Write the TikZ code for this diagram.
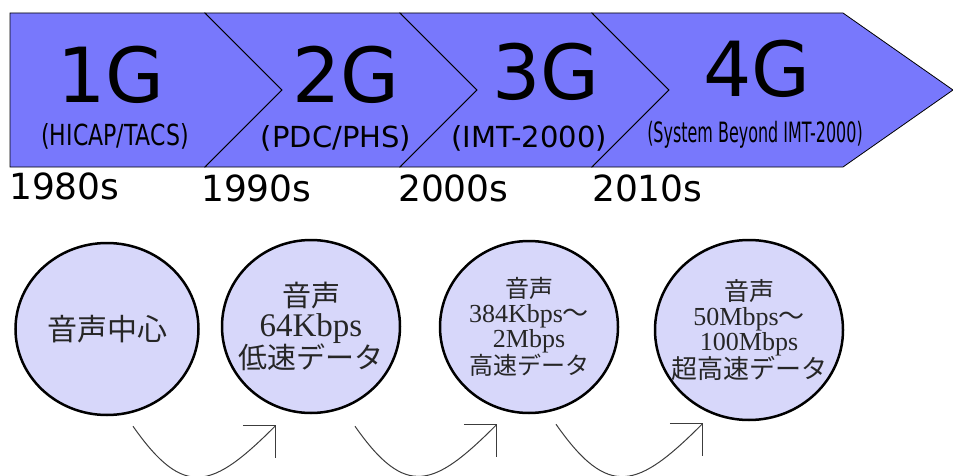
\documentclass[tikz,border=0pt]{standalone}
\usepackage{fontspec}
\usepackage{tikz}
\usetikzlibrary{arrows.meta,shapes.geometric}
\setmainfont{Liberation Serif}
\newfontfamily\dejavu{DejaVu Sans}
\newfontfamily\dejavunarrow[FakeStretch=0.76]{DejaVu Sans}
\newfontfamily\dejavuslim[FakeStretch=0.57]{DejaVu Sans}
\newfontfamily\jp{Noto Sans CJK JP}
\definecolor{banda}{RGB}{120,120,252}
\definecolor{circf}{RGB}{215,215,250}
\definecolor{flecha}{RGB}{60,60,60}
\tikzset{
  chev/.style={draw=black, line width=0.8pt, fill=banda, line join=miter},
  gen/.style={font=\dejavu\fontsize{76}{76}\selectfont, inner sep=0, anchor=base},
  sub/.style={font=\dejavu\fontsize{29}{29}\selectfont, inner sep=0, anchor=base},
  subn/.style={font=\dejavunarrow\fontsize{29}{29}\selectfont, inner sep=0, anchor=base},
  subs/.style={font=\dejavuslim\fontsize{28}{28}\selectfont, inner sep=0, anchor=base},
  yr/.style={font=\dejavu\fontsize{36}{36}\selectfont, inner sep=0, anchor=base west},
  circ/.style={draw=black, ellipse, line width=2.5pt, fill=circf, inner sep=0,
    minimum width=180pt, minimum height=172pt},
  lbl/.style={align=center, inner sep=0, text=black!85},
  fl/.style={-{Straight Barb[length=23pt,width=46pt]}, line width=1pt, flecha, looseness=1.6},
}
\begin{document}
\begin{tikzpicture}[x=1pt,y=1pt]
  \useasboundingbox (0,0) rectangle (953,475);
  % timeline band
  \draw[chev] (10,462) -- (205,462) -- (282,385) -- (205,308) -- (10,308) -- cycle;
  \draw[chev] (205,462) -- (400,462) -- (477,385) -- (400,308) -- (205,308) -- (282,385) -- cycle;
  \draw[chev] (400,462) -- (592,462) -- (669,385) -- (592,308) -- (400,308) -- (477,385) -- cycle;
  \draw[chev] (592,462) -- (843,462) -- (953,385) -- (843,308) -- (592,308) -- (669,385) -- cycle;
  \node[gen] (g1) at (111,372) {1G};
  \node[gen] (g2) at (346,373) {2G};
  \node[gen] (g3) at (546,375) {3G};
  \node[gen] (g4) at (757,378) {4G};
  \node[subn] (s1) at (115,330) {(HICAP/TACS)};
  \node[sub] (s2) at (336,327) {(PDC/PHS)};
  \node[sub] (s3) at (529,327) {(IMT-2000)};
  \node[subs] (s4) at (755,333) {(System Beyond IMT-2000)};
  \node[yr] (y1) at (9,276) {1980s};
  \node[yr] (y2) at (201,274) {1990s};
  \node[yr] (y3) at (398,274) {2000s};
  \node[yr] (y4) at (592,274) {2010s};
  % circles
  \node[circ, minimum width=183pt,
    label={[lbl, font=\jp\fontsize{30}{30}\selectfont]center:音声中心}] (c1) at (107,146) {};
  \node[circ, minimum width=178pt, minimum height=173pt,
    label={[lbl, font=\fontsize{33}{30}\selectfont]center:{{\jp\fontsize{29}{30}\selectfont 音声}\\64Kbps\\{\jp\fontsize{29}{30}\selectfont 低速データ}}}] (c2) at (311,148.5) {};
  \node[circ, minimum width=178pt,
    label={[lbl, font=\fontsize{26}{25}\selectfont]center:{{\jp\fontsize{24}{25}\selectfont 音声}\\384Kbps{\jp ～}\\2Mbps\\{\jp\fontsize{24}{25}\selectfont 高速データ}}}] (c3) at (529,148) {};
  \node[circ, minimum width=188pt, minimum height=180pt,
    label={[lbl, font=\fontsize{26}{25}\selectfont]center:{{\jp\fontsize{25}{25}\selectfont 音声}\\50Mbps{\jp ～}\\100Mbps\\{\jp\fontsize{26}{25}\selectfont 超高速データ}}}] (c4) at (749,145) {};
  \draw[fl] ([shift={(26,-10)}]c1.south) to[out=-55,in=-135] ([shift={(-35,-11)}]c2.south);
  \draw[fl] ([shift={(44,-12)}]c2.south) to[out=-55,in=-135] ([shift={(-32,-10)}]c3.south);
  \draw[fl] ([shift={(27,-10)}]c3.south) to[out=-55,in=-135] ([shift={(-46,-2)}]c4.south);
\end{tikzpicture}
\end{document}
